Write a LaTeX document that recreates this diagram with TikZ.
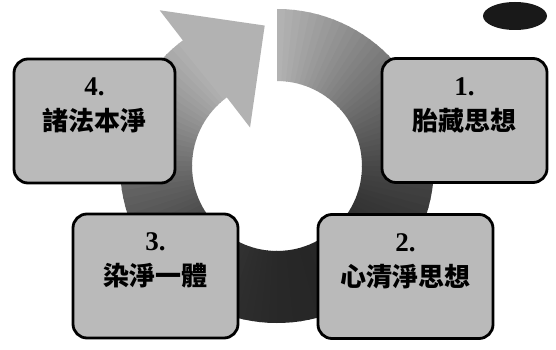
\documentclass[tikz,border=0pt]{standalone}
\usepackage{fontspec}
\setmainfont{Liberation Serif}
\newfontfamily\cjk{Noto Sans CJK TC}

\begin{document}
\begin{tikzpicture}[x=1pt, y=1pt, node distance=34pt,
    box/.style={draw, line width=2.8pt, rounded corners=14pt, fill=black!27,
                minimum height=124pt, inner sep=0pt},
    stage/.style={font=\cjk\bfseries\fontsize{26}{26}\selectfont, inner sep=0pt},
    num/.style={font=\bfseries\fontsize{27}{27}\selectfont, inner sep=0pt}]

    \useasboundingbox (0,0) rectangle (556,349);

    % Circular arrow
    \coordinate (C) at (277,183);
    \begin{scope}[shift={(C)}]
        \foreach \i in {0,...,107} {
            \pgfmathsetmacro{\a}{90-3*\i}
            \pgfmathsetmacro{\b}{\a-3.6}
            \pgfmathsetmacro{\d}{30+55*sin(1.6822*\i)}
            \fill[black!\d] (\a:157) arc[start angle=\a, end angle=\b, radius=157]
                -- (\b:85) arc[start angle=\b, end angle=\a, radius=85] -- cycle;
        }
        \fill[black!30] (127:195) -- (95:141) -- (125:47) -- cycle;
    \end{scope}

    % Spot
    \fill[black!90] (515,333) ellipse[x radius=32, y radius=14];

    % Boxes
    \node[box, minimum width=165pt] (B1) at (464.5,228.5) {};
    \node[box, minimum width=175pt] (B2) at (405.5,72.5) {};
    \node[box, minimum width=165pt] (B3) at (155.5,73) {};
    \node[box, minimum width=161pt] (B4) at (94.5,228) {};

    % Texts
    \node[stage] (S1) at (B1) {胎藏思想};
    \node[stage] (S2) at (B2) {心清淨思想};
    \node[stage] (S3) at (B3) {染淨一體};
    \node[stage] (S4) at (B4) {諸法本淨};
    \node[num] (N1) [above of=S1] {1.};
    \node[num] (N2) [above of=S2] {2.};
    \node[num] (N3) [above of=S3] {3.};
    \node[num] (N4) [above of=S4] {4.};
\end{tikzpicture}
\end{document}
